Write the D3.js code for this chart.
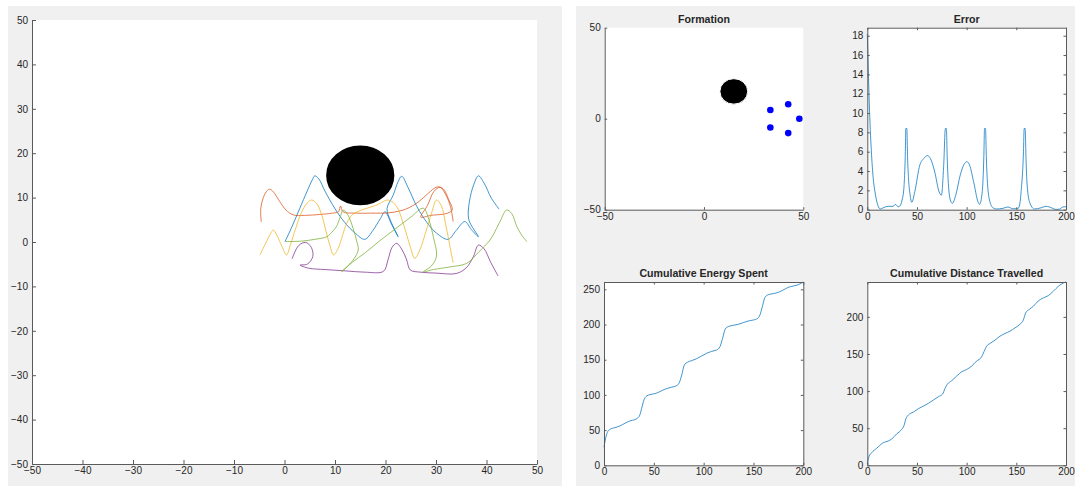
<!DOCTYPE html>
<html>
<head>
<meta charset="utf-8">
<script src="https://cdn.jsdelivr.net/npm/d3@7"></script>
<style>
  body { margin: 0; background: #ffffff; }
  svg { display: block; }
  text { font-family: "Liberation Sans", Arial, sans-serif; fill: #262626; }
</style>
</head>
<body>
<svg id="fig" width="1075" height="486"></svg>
<script>
// ---------- obstacle and final formation ----------
const obstacleCenter = [15, 15];
const obstacleRadius = 7;
const formationX = [48, 42.4, 33.4, 33.4, 42.4];
const formationY = [0, 7.9, 4.8, -4.8, -7.9];

// ---------- agent trajectories ----------
const agent1X = [0.1, 1.5, 3, 4.5, 5.5, 6.0, 6.8, 8, 10, 12, 14, 15.9, 17.5, 19, 19.9, 21.2, 22.5, 21, 20.3, 21.5, 22.5, 23.2, 24.5, 26.2, 28.2, 30.1, 32.4, 34, 35.7, 37, 38.4, 36.5, 36.6, 37.5, 38.4, 39.5, 41, 42.5];
const agent1Y = [0.1, 3.5, 7.5, 11.5, 14, 14.9, 14.2, 11.5, 7.5, 4.3, 2, 0.6, 2.6, 5.3, 6.8, 4, 1.2, 4.8, 7.5, 10.5, 13.6, 14.8, 12.2, 8, 4.4, 2, 0.6, 2.6, 4.6, 2.8, 1.2, 5, 9, 13, 14.9, 13.3, 9.8, 7.4];
const agent2X = [-4.6, -4.7, -4.2, -3.4, -2.9, -2.2, -1, 0.3, 1.75, 4, 7, 9.5, 10.7, 11.1, 11.6, 14, 17, 20.9, 24, 26.5, 28.5, 30.2, 31.4, 32.5, 33.2, 32, 29, 27, 28.3, 29.6, 30.8, 32, 32.9, 33.4];
const agent2Y = [4.5, 7.5, 10, 11.6, 11.9, 11.3, 9.2, 7.2, 6.1, 6, 6.2, 6.5, 6.8, 8.1, 6.8, 6.5, 6.5, 6.6, 7.4, 9, 11, 12.4, 12, 9.6, 7.2, 6.4, 6, 5.6, 8.2, 11.4, 12.3, 10.5, 7.8, 4.6];
const agent3X = [-4.85, -3.7, -2.6, -2.2, -1.5, -0.5, 0.4, 1.2, 2.2, 3.3, 4.5, 5.4, 6.4, 7.4, 8.2, 9, 9.7, 10.6, 11.5, 12.3, 13.5, 15.5, 18, 20.6, 22.2, 23.5, 24.9, 25.8, 26.8, 28.1, 29.2, 30.1, 31, 32, 32.8, 33.4];
const agent3Y = [-2.9, -0.2, 2.2, 2.7, 1.5, -1, -2.9, -0.5, 3, 6.5, 8.8, 9.45, 8.6, 6, 2.5, -0.8, -2.9, -1.5, 1.5, 4.2, 6.2, 7.3, 8.2, 9.45, 8, 4.2, -1.05, -3.7, -1.8, 2.7, 6.8, 9.45, 8.3, 3.5, -1.2, -4.7];
const agent4X = [1.5, 2.8, 4.2, 5.3, 5.6, 4.5, 3.1, 4.8, 8, 12, 16, 19.6, 20.5, 21.3, 22.2, 23.3, 24.2, 24.9, 27, 30, 34, 36, 37.4, 38.4, 39.5, 40.8, 42.3];
const agent4Y = [-3.8, -0.8, -0.1, -1.2, -3.3, -5, -5.2, -5.9, -6.2, -6.5, -6.8, -6.6, -4, -1.2, -0.3, -1.8, -4.05, -6.3, -6.8, -7, -7.1, -5.8, -3.3, -0.7, -1.5, -4.5, -7.66];
const agent5X = [0.2, 3.4, 6, 8.4, 9.6, 10.3, 11, 11.6, 12.5, 13.6, 14.3, 14.6, 13.5, 11.3, 13.5, 16, 19, 22, 25, 27.5, 28.6, 29.5, 30.1, 29, 27.5, 29.5, 32.8, 36.1, 38.5, 40.7, 42.5, 44, 45, 46, 47, 48];
const agent5Y = [0.1, 0.2, 0.6, 1.2, 2.5, 3.5, 5.5, 7.2, 6.2, 3, 0.2, -1.8, -4.2, -6.7, -4.5, -2.4, 0.4, 3, 5.6, 7.6, 5, 1, -3.2, -5.5, -6.7, -6.2, -5.6, -4.8, -2.2, 0.45, 4.2, 7.2, 6.4, 3.5, 1.5, 0.07];

// ---------- time series ----------
const errorT = [0, 1, 2, 3, 4, 5, 6, 7.5, 9, 10.5, 12, 13, 16, 21, 26, 28.4, 31, 32.8, 35, 36.8, 38.3, 38.8, 39.8, 40.5, 41.5, 43, 44.8, 47.8, 52.8, 56.9, 60.5, 63.5, 67.9, 72.2, 74.6, 76.9, 78.6, 79.6, 80.4, 81.3, 83.6, 85.6, 89, 93.6, 98, 100.3, 103, 107, 111.4, 113, 115.7, 117.3, 118, 119, 119.8, 120.7, 123, 126.4, 129.8, 136.5, 141.5, 146.5, 151.5, 153.5, 154.8, 157.2, 157.9, 158.9, 159.7, 160.5, 163.2, 168.2, 174.9, 180, 183.3, 190, 193.3, 196.7, 200];
const errorV = [18.2, 14.5, 11, 8.3, 6.2, 4.5, 3.2, 2.0, 1.1, 0.5, 0.15, 0.07, 0.2, 0.35, 0.35, 0.55, 0.3, 0.38, 1.0, 2.2, 6.0, 8.4, 8.4, 5.5, 3.2, 1.6, 0.76, 1.86, 4.6, 5.3, 5.6, 5.3, 3.9, 1.86, 1.5, 4.6, 8.4, 8.4, 5.5, 3.2, 1.0, 0.66, 1.5, 3.6, 4.8, 4.97, 4.6, 2.9, 0.83, 0.55, 1.86, 5.5, 8.4, 8.4, 5.5, 3.2, 1.0, 0.2, 0.07, 0.14, 0.28, 0.1, 0.1, 0.6, 1.86, 6.0, 8.4, 8.4, 5.5, 3.2, 0.83, 0.07, 0.2, 0.35, 0.28, 0.03, 0.05, 0.28, 0.31];

const energyT = [0, 2, 3.7, 6, 11, 16, 21, 26, 31, 33.8, 36, 37.8, 40.1, 42.8, 46, 51, 56, 61, 66, 72.9, 75.6, 78, 80.6, 83.6, 88, 93, 98, 103, 108, 113, 116.4, 119, 121.7, 124.7, 129.8, 134.8, 139.8, 144.8, 149.8, 154.2, 156.5, 158.9, 161.5, 164.9, 169.9, 174.9, 179.9, 184.9, 190, 195, 200];
const energyV = [25.6, 40.7, 47.8, 51.1, 53.5, 55.9, 59.7, 63, 64.9, 67.2, 71.5, 81, 92.8, 98.5, 100.4, 101.8, 104.6, 108, 110.3, 113.2, 117.4, 128.3, 142.5, 146.3, 148.7, 151.5, 155.3, 159.1, 161.9, 163.8, 168.6, 180.4, 193.7, 197, 198.9, 200.3, 202.7, 205, 206.4, 208.8, 213.5, 225.4, 238.6, 242.4, 243.9, 245.7, 249.1, 252.8, 254.7, 256.6, 260.4];

const distanceT = [0, 1.7, 4.4, 9.4, 16.1, 21.1, 24.5, 29.5, 34.6, 36.9, 39, 41.3, 46.3, 51.3, 56.4, 61.4, 66.4, 71.5, 75.8, 78.2, 80.5, 84.9, 89.9, 95, 100, 105, 110, 115.1, 117.4, 120.1, 123.5, 128.5, 133.6, 138.6, 143.6, 148.7, 153.7, 157, 159.4, 162.8, 167.1, 172.1, 177.2, 182.2, 187.2, 192.3, 197.3, 200];
const distanceV = [1.8, 11.7, 17, 22.9, 30.5, 32.7, 35.4, 42.2, 48.4, 53.4, 63.2, 67.7, 71.7, 76.2, 79.8, 83.4, 87.9, 92.4, 96, 103.6, 109, 113.9, 120.2, 126, 129.1, 133.6, 140.4, 146.2, 152.9, 160.5, 164.1, 168.6, 174, 177.6, 180.7, 185.2, 190.1, 195.5, 205.4, 209.9, 214.3, 221.5, 225.6, 228.7, 234.5, 241.2, 245.7, 247];

// ---------- tick values ----------
const mainTicks = [-50, -40, -30, -20, -10, 0, 10, 20, 30, 40, 50];
const formationTicks = [-50, 0, 50];
const timeTicks = [0, 50, 100, 150, 200];
const errorTicks = [0, 2, 4, 6, 8, 10, 12, 14, 16, 18];
const energyTicks = [0, 50, 100, 150, 200, 250];
const distanceTicks = [0, 50, 100, 150, 200];

// ---------- styling ----------
const agentColors = ["#0072BD", "#D95319", "#EDB120", "#7E2F8E", "#77AC30"];
const lineBlue = "#0072BD";
const axisColor = "#5a5a5a";

const svg = d3.select("#fig");

// figure panels
svg.append("rect").attr("x", 8).attr("y", 6).attr("width", 554).attr("height", 480).attr("fill", "#f0f0f0");
svg.append("rect").attr("x", 576).attr("y", 6).attr("width", 499).attr("height", 480).attr("fill", "#f0f0f0");

function makeAxes(o) {
  const g = svg.append("g").attr("transform", `translate(${o.left},${o.top})`);
  const w = o.right - o.left, h = o.bottom - o.top;
  const x = d3.scaleLinear().domain(o.xDomain).range([0, w]);
  const y = d3.scaleLinear().domain(o.yDomain).range([h, 0]);
  g.append("rect").attr("width", w).attr("height", h).attr("fill", "#ffffff");
  const plot = g.append("g");
  const tl = o.tickLen;

  const styleAxis = sel => {
    sel.selectAll("path.domain").attr("stroke", axisColor).attr("stroke-width", 1);
    sel.selectAll(".tick line").attr("stroke", axisColor).attr("stroke-width", 1);
    sel.selectAll(".tick text").attr("font-size", "10px").attr("fill", "#3a3a3a")
      .style("font-family", '"Liberation Sans", Arial, sans-serif');
  };

  if (o.box) {
    const top = g.append("g")
      .call(d3.axisTop(x).tickValues(o.xTicks).tickSizeInner(-tl).tickSizeOuter(0).tickFormat(""));
    styleAxis(top);
    const right = g.append("g").attr("transform", `translate(${w},0)`)
      .call(d3.axisRight(y).tickValues(o.yTicks).tickSizeInner(-tl).tickSizeOuter(0).tickFormat(""));
    styleAxis(right);
  }
  const bottom = g.append("g").attr("transform", `translate(0,${h})`)
    .call(d3.axisBottom(x).tickValues(o.xTicks).tickSizeInner(-tl).tickSizeOuter(0).tickPadding(3));
  styleAxis(bottom);
  const left = g.append("g")
    .call(d3.axisLeft(y).tickValues(o.yTicks).tickSizeInner(-tl).tickSizeOuter(0).tickPadding(4));
  styleAxis(left);

  if (o.title) {
    g.append("text").attr("x", w / 2).attr("y", -5).attr("text-anchor", "middle")
      .attr("font-size", "10.6px").attr("font-weight", "bold").attr("fill", "#000").text(o.title);
  }
  return { g, plot, x, y };
}

function drawObstacle(ax, strokeW) {
  ax.plot.append("ellipse")
    .attr("cx", ax.x(obstacleCenter[0])).attr("cy", ax.y(obstacleCenter[1]))
    .attr("rx", ax.x(obstacleCenter[0] + obstacleRadius) - ax.x(obstacleCenter[0]))
    .attr("ry", ax.y(obstacleCenter[1]) - ax.y(obstacleCenter[1] + obstacleRadius))
    .attr("fill", "#000").attr("stroke", "#fff").attr("stroke-width", strokeW);
}

// ---------- main trajectory plot ----------
const main = makeAxes({ left: 32, right: 537, top: 20, bottom: 464,
  xDomain: [-50, 50], yDomain: [-50, 50], xTicks: mainTicks, yTicks: mainTicks, tickLen: 4, box: false });

const agentsX = [agent1X, agent2X, agent3X, agent4X, agent5X];
const agentsY = [agent1Y, agent2Y, agent3Y, agent4Y, agent5Y];
const traj = d3.line().x(d => main.x(d[0])).y(d => main.y(d[1])).curve(d3.curveCatmullRom.alpha(0.5));
agentsX.forEach((xs, i) => {
  const pts = xs.map((v, k) => [v, agentsY[i][k]]);
  main.plot.append("path").attr("d", traj(pts)).attr("fill", "none")
    .attr("stroke", agentColors[i]).attr("stroke-width", 1).attr("stroke-opacity", 0.75);
});
drawObstacle(main, 2.5);

// ---------- formation ----------
const form = makeAxes({ left: 604.7, right: 803.3, top: 27.7, bottom: 209.7,
  xDomain: [-50, 50], yDomain: [-50, 50], xTicks: formationTicks, yTicks: formationTicks,
  tickLen: 2.5, box: false, title: "Formation" });
drawObstacle(form, 1);
form.plot.selectAll("circle.agent").data(formationX).enter().append("circle")
  .attr("cx", d => form.x(d)).attr("cy", (d, i) => form.y(formationY[i]))
  .attr("r", 3.3).attr("fill", "#0000ff");

// ---------- time series panels ----------
function series(ax, ts, vs) {
  const ln = d3.line().x((d, i) => ax.x(ts[i])).y(d => ax.y(d)).curve(d3.curveMonotoneX);
  ax.plot.append("path").attr("d", ln(vs)).attr("fill", "none")
    .attr("stroke", lineBlue).attr("stroke-width", 1).attr("stroke-opacity", 0.75);
}

const err = makeAxes({ left: 867.3, right: 1066, top: 27.7, bottom: 209.7,
  xDomain: [0, 200], yDomain: [0, 18.83], xTicks: timeTicks, yTicks: errorTicks,
  tickLen: 2.5, box: true, title: "Error" });
series(err, errorT, errorV);

const energy = makeAxes({ left: 604, right: 803.3, top: 282, bottom: 465.3,
  xDomain: [0, 200], yDomain: [0, 260.4], xTicks: timeTicks, yTicks: energyTicks,
  tickLen: 2.5, box: true, title: "Cumulative Energy Spent" });
series(energy, energyT, energyV);

const dist = makeAxes({ left: 867.3, right: 1066, top: 282, bottom: 465.3,
  xDomain: [0, 200], yDomain: [0, 247], xTicks: timeTicks, yTicks: distanceTicks,
  tickLen: 2.5, box: true, title: "Cumulative Distance Travelled" });
series(dist, distanceT, distanceV);
</script>
</body>
</html>
